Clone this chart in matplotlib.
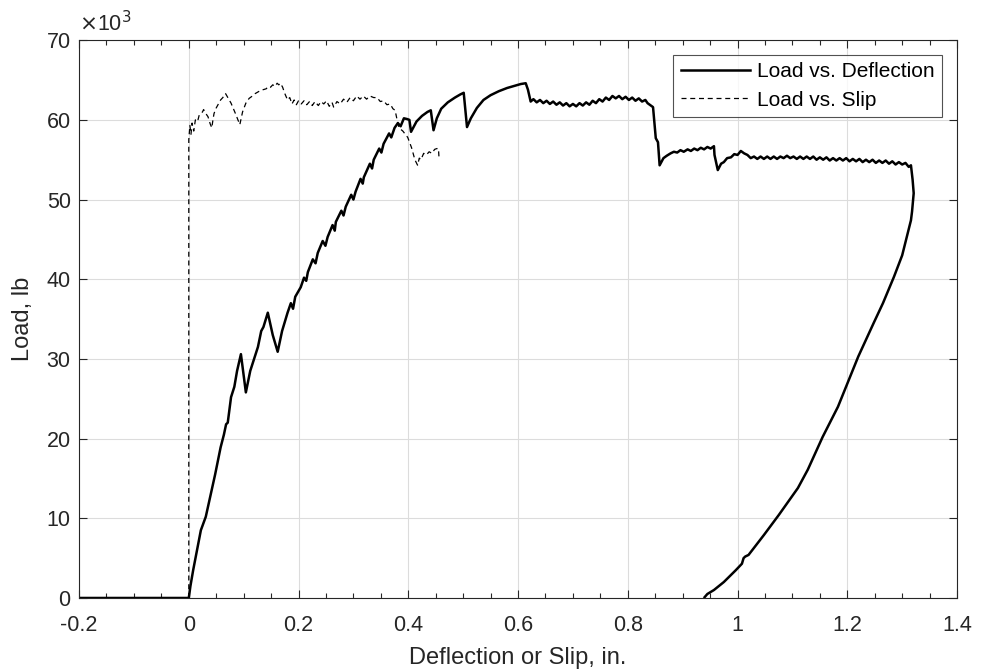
import matplotlib
matplotlib.use("Agg")
import matplotlib.pyplot as plt
from matplotlib.ticker import MultipleLocator

plt.rcParams["font.family"] = ["Liberation Sans", "DejaVu Sans"]
plt.rcParams["axes.unicode_minus"] = False

# Load vs. mid-span deflection (load in kips, plotted with a x10^3 multiplier)
defl_x = [
    -0.2, 0.0, 0.003, 0.008, 0.015, 0.022, 0.031, 0.040, 0.048, 0.058, 0.064, 0.068,
    0.071, 0.077, 0.083, 0.088, 0.095, 0.104, 0.112, 0.120, 0.126, 0.132, 0.136,
    0.144, 0.153, 0.162, 0.170, 0.180, 0.186, 0.190, 0.194, 0.204, 0.210, 0.214,
    0.217, 0.226, 0.231, 0.235, 0.244, 0.249, 0.253, 0.262, 0.266, 0.268, 0.278,
    0.282, 0.286, 0.296, 0.300, 0.304, 0.313, 0.317, 0.319, 0.330, 0.334, 0.337,
    0.347, 0.351, 0.355, 0.365, 0.369, 0.375, 0.381, 0.386, 0.392, 0.398, 0.402,
    0.405, 0.415, 0.425, 0.435, 0.441, 0.446, 0.452, 0.460, 0.472, 0.485, 0.495,
    0.501, 0.507, 0.514, 0.525, 0.537, 0.550, 0.565, 0.580, 0.595, 0.605, 0.614,
    0.618, 0.623, 0.628, 0.634, 0.640, 0.646, 0.652, 0.658, 0.664, 0.670, 0.676,
    0.682, 0.688, 0.694, 0.700, 0.706, 0.712, 0.718, 0.724, 0.730, 0.736, 0.742,
    0.748, 0.754, 0.760, 0.766, 0.772, 0.778, 0.784, 0.790, 0.796, 0.802, 0.808,
    0.814, 0.820, 0.826, 0.832, 0.836, 0.840, 0.846, 0.848, 0.851, 0.855, 0.858,
    0.865, 0.871, 0.878, 0.884, 0.890, 0.896, 0.902, 0.909, 0.915, 0.921, 0.927,
    0.933, 0.939, 0.945, 0.951, 0.957, 0.958, 0.964, 0.970, 0.975, 0.981, 0.988,
    0.994, 1.000, 1.006, 1.012, 1.018, 1.024, 1.030, 1.036, 1.042, 1.048, 1.054,
    1.060, 1.066, 1.072, 1.078, 1.084, 1.090, 1.096, 1.102, 1.108, 1.114, 1.120,
    1.126, 1.132, 1.138, 1.144, 1.150, 1.156, 1.162, 1.168, 1.174, 1.180, 1.186,
    1.192, 1.198, 1.204, 1.210, 1.216, 1.222, 1.228, 1.234, 1.240, 1.246, 1.252,
    1.258, 1.264, 1.270, 1.276, 1.282, 1.288, 1.294, 1.300, 1.306, 1.312, 1.316,
    1.319, 1.321, 1.318, 1.316, 1.300, 1.285, 1.265, 1.248, 1.220, 1.203, 1.183,
    1.155, 1.128, 1.110, 1.075, 1.048, 1.020, 1.014, 1.011, 1.008, 0.997, 0.975,
    0.957, 0.945, 0.940,
]
defl_load = [
    0.0, 0.0, 1.5, 3.5, 6.0, 8.5, 10.2, 13.0, 15.5, 18.9, 20.5, 21.8,
    22.0, 25.2, 26.5, 28.5, 30.6, 25.8, 28.5, 30.2, 31.5, 33.5, 34.0,
    35.8, 33.0, 30.9, 33.5, 35.8, 37.0, 36.3, 37.8, 39.0, 40.2, 39.8,
    40.9, 42.5, 42.0, 43.3, 44.8, 44.2, 45.3, 46.8, 46.1, 47.2, 48.6,
    48.0, 49.1, 50.6, 50.0, 51.0, 52.6, 52.0, 52.8, 54.5, 53.9, 55.0,
    56.4, 55.9, 57.0, 58.3, 57.8, 59.0, 59.6, 59.2, 60.2, 60.1, 60.0,
    58.5, 59.8, 60.5, 61.0, 61.2, 58.7, 60.2, 61.4, 62.2, 62.8, 63.2,
    63.4, 59.1, 60.2, 61.5, 62.5, 63.1, 63.6, 64.0, 64.3, 64.5, 64.6,
    63.8, 62.3, 62.6, 62.2, 62.5, 62.1, 62.4, 62.0, 62.3, 61.9, 62.2,
    61.8, 62.1, 61.7, 62.0, 61.7, 62.1, 61.8, 62.2, 61.9, 62.4, 62.1,
    62.6, 62.3, 62.8, 62.5, 63.0, 62.7, 63.0, 62.6, 62.9, 62.5, 62.8,
    62.4, 62.7, 62.3, 62.5, 62.1, 61.9, 61.6, 60.0, 57.7, 57.2, 54.3,
    55.2, 55.5, 55.8, 56.0, 55.9, 56.2, 56.0, 56.3, 56.1, 56.4, 56.2,
    56.5, 56.3, 56.6, 56.4, 56.7, 55.6, 53.7, 54.5, 54.7, 55.2, 55.3,
    55.7, 55.6, 56.1, 55.8, 55.6, 55.2, 55.4, 55.1, 55.4, 55.1, 55.4,
    55.1, 55.4, 55.1, 55.4, 55.2, 55.5, 55.2, 55.4, 55.1, 55.4, 55.1,
    55.4, 55.1, 55.4, 55.0, 55.3, 55.0, 55.3, 54.9, 55.2, 54.9, 55.2,
    54.9, 55.2, 54.8, 55.1, 54.8, 55.1, 54.7, 55.0, 54.7, 55.0, 54.6,
    54.9, 54.6, 54.9, 54.5, 54.8, 54.4, 54.7, 54.4, 54.6, 54.1, 54.3,
    52.5, 50.8, 48.5, 47.4, 43.0, 40.3, 37.0, 34.5, 30.3, 27.4, 24.0,
    20.2, 16.1, 13.8, 10.4, 7.9, 5.4, 5.2, 5.0, 4.3, 3.5, 2.0,
    1.0, 0.5, 0.1,
]

# Load vs. end slip
slip_x = [
    0.0, 0.0, 0.002, 0.004, 0.006, 0.009, 0.012, 0.016, 0.019, 0.022, 0.025,
    0.027, 0.031, 0.035, 0.039, 0.042, 0.044, 0.046, 0.050, 0.054, 0.058,
    0.062, 0.067, 0.072, 0.077, 0.085, 0.093, 0.098, 0.104, 0.110, 0.116,
    0.121, 0.126, 0.131, 0.136, 0.141, 0.145, 0.149, 0.153, 0.157, 0.161,
    0.164, 0.167, 0.171, 0.175, 0.180, 0.184, 0.188, 0.192, 0.196, 0.200,
    0.205, 0.210, 0.215, 0.220, 0.225, 0.230, 0.236, 0.241, 0.246, 0.251,
    0.256, 0.261, 0.264, 0.270, 0.276, 0.282, 0.288, 0.294, 0.300, 0.306,
    0.312, 0.318, 0.324, 0.330, 0.337, 0.343, 0.349, 0.355, 0.361, 0.367,
    0.372, 0.376, 0.379, 0.383, 0.390, 0.399, 0.406, 0.412, 0.417, 0.420,
    0.423, 0.428, 0.433, 0.438, 0.443, 0.448, 0.452, 0.455, 0.456,
]
slip_load = [
    0.0, 57.5, 59.3, 58.2, 59.6, 58.6, 60.0, 59.8, 60.6, 60.8, 61.0,
    61.3, 60.8, 60.4, 59.5, 59.0, 60.0, 60.8, 61.5, 62.0, 62.5,
    62.8, 63.3, 62.7, 62.1, 60.8, 59.4, 61.0, 62.1, 62.7, 63.0,
    63.3, 63.5, 63.7, 63.8, 63.9, 64.2, 64.1, 64.4, 64.2, 64.6,
    64.4, 64.6, 64.1, 63.3, 62.5, 62.8, 62.0, 62.5, 61.9, 62.4,
    62.0, 62.4, 61.9, 62.3, 61.8, 62.3, 61.8, 62.3, 62.0, 62.4,
    61.7, 62.2, 61.6, 62.3, 62.0, 62.6, 62.2, 62.8, 62.4, 63.0,
    62.6, 63.0, 62.6, 63.0, 62.8, 62.8, 62.3, 62.4, 61.9, 62.0,
    61.4, 61.2, 60.2, 59.0, 58.6, 57.8, 56.5, 55.0, 54.3, 55.2,
    55.0, 55.8, 55.6, 56.0, 55.8, 56.3, 56.4, 56.4, 55.2,
]

x_ticks = [-0.2, 0, 0.2, 0.4, 0.6, 0.8, 1, 1.2, 1.4]
x_tick_labels = ["-0.2", "0", "0.2", "0.4", "0.6", "0.8", "1", "1.2", "1.4"]
y_ticks = [0, 10, 20, 30, 40, 50, 60, 70]

text_color = "#262626"

fig = plt.figure(figsize=(9.83, 6.70), dpi=100)
ax = fig.add_axes([0.0804, 0.1075, 0.8932, 0.8325])

ax.plot(defl_x, defl_load, color="black", lw=1.8, label="Load vs. Deflection")
ax.plot(slip_x, slip_load, color="black", lw=0.9, ls=(0, (4, 3)),
        label="Load vs. Slip")

ax.set_xlim(-0.2, 1.4)
ax.set_ylim(0, 70)
ax.set_xticks(x_ticks)
ax.set_xticklabels(x_tick_labels)
ax.set_yticks(y_ticks)
ax.xaxis.set_minor_locator(MultipleLocator(0.05))

ax.grid(True, which="major", color="#dcdcdc", lw=0.8)
ax.set_axisbelow(True)
ax.tick_params(which="both", direction="in", top=True, right=True,
               labelsize=15.5, colors=text_color, width=0.8)
ax.tick_params(which="major", length=6)
ax.tick_params(which="minor", length=3.5)
ax.tick_params(axis="x", which="major", pad=12)
ax.tick_params(axis="y", which="major", pad=6)
for s in ax.spines.values():
    s.set_color(text_color)
    s.set_linewidth(0.8)

ax.set_xlabel("Deflection or Slip, in.", fontsize=17, color=text_color, labelpad=8)
ax.set_ylabel("Load, lb", fontsize=17, color=text_color, labelpad=9)
ax.text(0.0, 1.008, r"$\times$10$^{3}$", transform=ax.transAxes, fontsize=15.5,
        color=text_color, ha="left", va="bottom")

leg = ax.legend(loc="upper right", fontsize=15, frameon=True, fancybox=False,
                handlelength=3.3, handletextpad=0.35, borderpad=0.37,
                labelspacing=0.44, borderaxespad=0.7)
leg.get_frame().set_edgecolor(text_color)
leg.get_frame().set_linewidth(0.8)

fig.savefig("out.png", dpi=100)
